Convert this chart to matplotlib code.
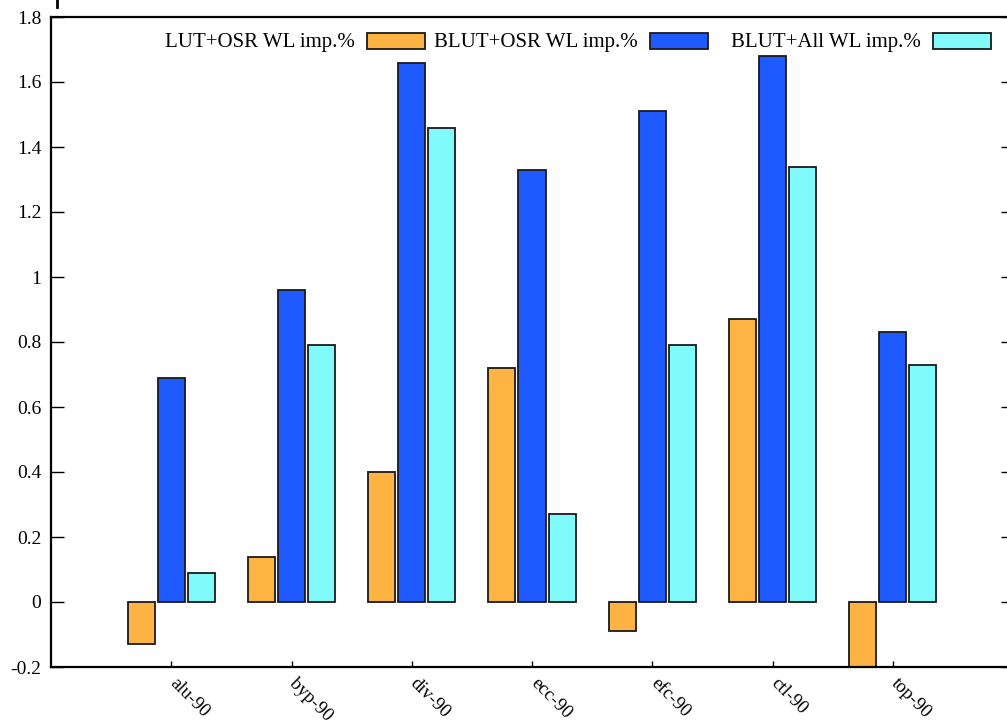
import matplotlib
matplotlib.use("Agg")
import matplotlib.pyplot as plt
import numpy as np
from matplotlib.patches import Rectangle
from matplotlib.lines import Line2D

categories = ["alu-90", "byp-90", "div-90", "ecc-90", "efc-90", "ctl-90", "top-90"]
lut_osr = [-0.13, 0.14, 0.40, 0.72, -0.09, 0.87, -0.25]
blut_osr = [0.69, 0.96, 1.66, 1.33, 1.51, 1.68, 0.83]
blut_all = [0.09, 0.79, 1.46, 0.27, 0.79, 1.34, 0.73]
series_names = ["LUT+OSR WL imp.%", "BLUT+OSR WL imp.%", "BLUT+All WL imp.%"]
colors = ["#FFB343", "#1E5AFF", "#80FAFA"]
yticks = [-0.2, 0, 0.2, 0.4, 0.6, 0.8, 1, 1.2, 1.4, 1.6, 1.8]
ytick_labels = ["-0.2", "0", "0.2", "0.4", "0.6", "0.8", "1", "1.2", "1.4", "1.6", "1.8"]

plt.rcParams['font.family'] = ['Liberation Serif', 'DejaVu Serif']

W, H = 1007, 720
fig = plt.figure(figsize=(W / 100, H / 100), dpi=100)
left, right, top, bottom = 51, 1013, 17, 667
ax = fig.add_axes([left / W, 1 - bottom / H, (right - left) / W, (bottom - top) / H])

x = np.arange(len(categories))
bw = 0.225
pitch = 0.25
series = [lut_osr, blut_osr, blut_all]
for i, (vals, c) in enumerate(zip(series, colors)):
    ax.bar(x + (i - 1) * pitch, vals, width=bw, color=c, edgecolor="#1a1a1a",
           linewidth=1.3, zorder=2)

ax.set_xlim(-1, 7)
ax.set_ylim(-0.2, 1.8)
ax.set_yticks(yticks)
ax.set_yticklabels(ytick_labels, fontsize=14)
ax.set_xticks(x)
ax.set_xticklabels([])
for xi, name in zip(x, categories):
    ax.annotate(name, xy=(xi, 0), xycoords=ax.get_xaxis_transform(),
                xytext=(-5, -8), textcoords="offset pixels",
                rotation=-45, ha="left", va="top", fontsize=13.5,
                annotation_clip=False)
ax.tick_params(axis="y", direction="in", length=9, width=1, left=True, right=True, pad=7)
ax.tick_params(axis="x", direction="in", length=4, width=1, top=False)
for s in ax.spines.values():
    s.set_linewidth(1.6)

# legend drawn gnuplot-style: right-aligned text followed by sample box
box_lefts = [367, 650, 933]
box_w, box_h, box_cy = 58, 16, 41
for name, c, bl in zip(series_names, colors, box_lefts):
    fig.add_artist(Rectangle((bl / W, 1 - (box_cy + box_h / 2) / H), box_w / W, box_h / H,
                             facecolor=c, edgecolor="#1a1a1a", linewidth=1.3,
                             transform=fig.transFigure))
    fig.text((bl - 12) / W, 1 - (box_cy + 1) / H, name, ha="right", va="center", fontsize=15)

fig.add_artist(Line2D([57 / W, 57 / W], [1, 1 - 7 / H], color="black", linewidth=2,
                      transform=fig.transFigure))

fig.savefig("out.png", dpi=100)
